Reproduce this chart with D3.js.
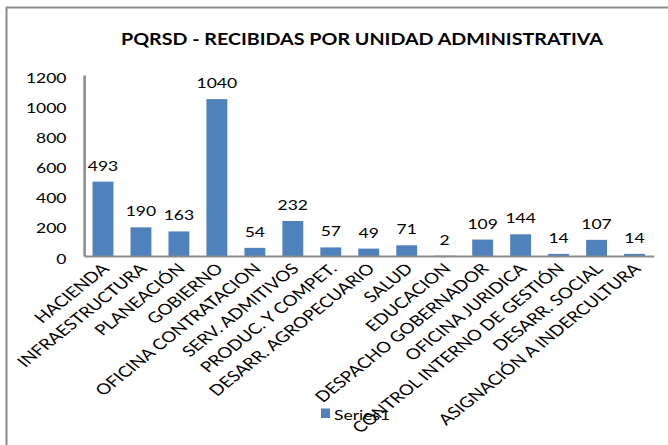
<!DOCTYPE html>
<html><head><meta charset="utf-8">
<script src="https://cdn.jsdelivr.net/npm/d3@7"></script>
<style>html,body{margin:0;padding:0;background:#fff;}svg{display:block;}</style>
</head><body>
<script>
const categories = ["HACIENDA","INFRAESTRUCTURA","PLANEACIÓN","GOBIERNO","OFICINA CONTRATACION","SERV. ADMITIVOS","PRODUC. Y COMPET.","DESARR. AGROPECUARIO","SALUD","EDUCACION","DESPACHO GOBERNADOR","OFICINA JURIDICA","CONTROL INTERNO DE GESTIÓN","DESARR. SOCIAL","ASIGNACIÓN A INDERCULTURA"];
const values = [493,190,163,1040,54,232,57,49,71,2,109,144,14,107,14];
const yTicks = [0,200,400,600,800,1000,1200];
const title = "PQRSD - RECIBIDAS POR UNIDAD ADMINISTRATIVA";
const seriesName = "Series1";

const W = 668, H = 445, SX = 1.25;
const font = "Lato, 'Open Sans', sans-serif";
const svg = d3.select("body").append("svg").attr("width", W).attr("height", H);

// frame (left & top border)
svg.append("line").attr("x1",6.5).attr("x2",6.5).attr("y1",7).attr("y2",H).attr("stroke","#8a8a8a").attr("stroke-width",2);
svg.append("line").attr("x1",6).attr("x2",W).attr("y1",7.5).attr("y2",7.5).attr("stroke","#8a8a8a").attr("stroke-width",2);

const g = svg.append("g").attr("transform", `scale(${SX},1)`);

const x = d3.scaleBand().domain(categories).range([84/SX, 653.5/SX]).paddingInner(0.45).paddingOuter(0.225);
const y = d3.scaleLinear().domain([0,1200]).range([256,75]);

// title
g.append("text").attr("x", 362/SX).attr("y", 45).attr("text-anchor","middle")
 .attr("font-family", font).attr("font-weight","bold").attr("font-size",17)
 .attr("textLength", 482/SX).attr("lengthAdjust","spacingAndGlyphs").attr("fill","#000").text(title);

// y axis
const yAxis = d3.axisLeft(y).tickValues(yTicks).tickSize(0).tickPadding(14).tickFormat(d3.format("d"));
const ya = g.append("g").attr("transform", `translate(${84/SX},0)`).call(yAxis);
ya.select(".domain").attr("stroke","#8a8a8a").attr("stroke-width",2);
ya.selectAll("text").attr("font-family",font).attr("font-size",14).attr("fill","#000").attr("dy","0.5em");

// bars
g.selectAll("rect.bar").data(values).join("rect").attr("class","bar")
 .attr("x",(d,i)=>x(categories[i])).attr("width",x.bandwidth())
 .attr("y",d=>y(d)).attr("height",d=>y(0)-y(d)).attr("fill","#4f81bd");

// data labels
g.selectAll("text.val").data(values).join("text").attr("class","val")
 .attr("x",(d,i)=>x(categories[i])+x.bandwidth()/2).attr("y",d=>y(d)-11)
 .attr("text-anchor","middle").attr("font-family",font).attr("font-size",14).attr("fill","#000").text(d=>d);

// x axis
const xAxis = d3.axisBottom(x).tickSize(0).tickFormat(()=> "");
const xa = g.append("g").attr("transform",`translate(0,${y(0)})`).call(xAxis);
xa.select(".domain").attr("stroke","#8a8a8a").attr("stroke-width",2);

// legend
g.append("rect").attr("x",321/SX).attr("y",408.5).attr("width",9/SX).attr("height",9.5).attr("fill","#4f81bd");
g.append("text").attr("x",334/SX).attr("y",420).attr("font-family",font).attr("font-size",14).attr("fill","#000").text(seriesName);

// category labels
g.selectAll("text.cat").data(categories).join("text").attr("class","cat")
 .attr("transform", d=>`translate(${x(d)+x.bandwidth()/2+2},${y(0)+10}) rotate(-45)`)
 .attr("text-anchor","end").attr("dy","0.35em")
 .attr("font-family",font).attr("font-size",15).attr("fill","#000").text(d=>d);
</script>
</body></html>
